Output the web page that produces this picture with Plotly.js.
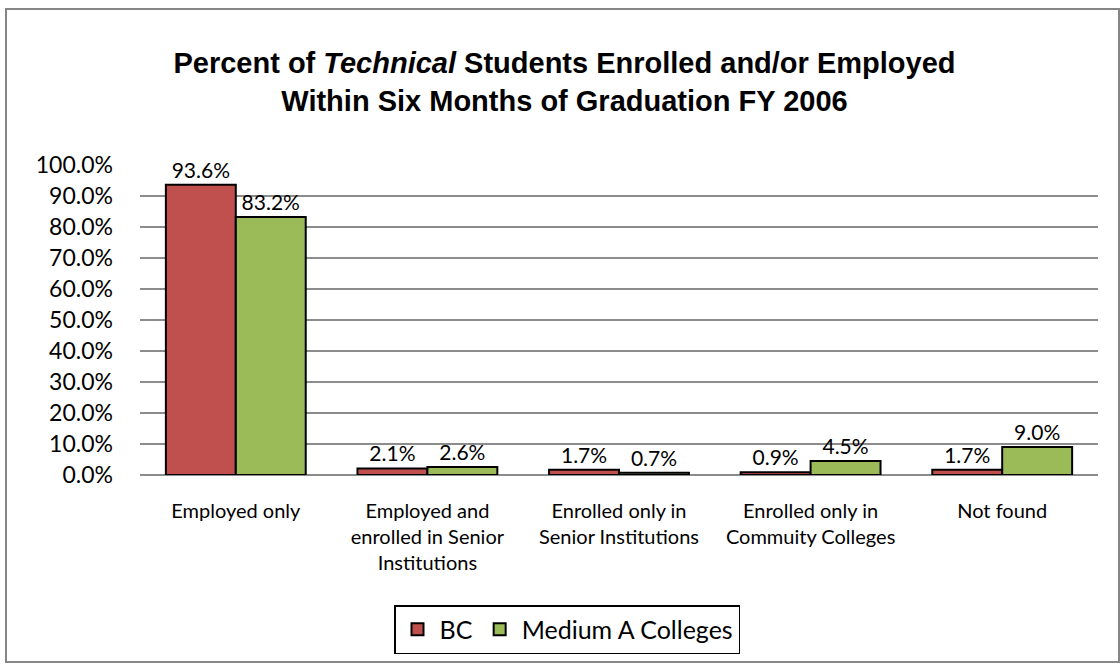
<!DOCTYPE html>
<html>
<head>
<meta charset="utf-8">
<script src="https://cdn.plot.ly/plotly-3.0.1.min.js"></script>
<style>html,body{margin:0;padding:0;background:#fff;}#chart{width:1120px;height:664px;}</style>
</head>
<body>
<div id="chart"></div>
<script>
const categories = [
  "Employed only",
  "Employed and<br>enrolled in Senior<br>Institutions",
  "Enrolled only in<br>Senior Institutions",
  "Enrolled only in<br>Commuity Colleges",
  "Not found"
];
const seriesNames = ["BC", "Medium A Colleges"];
const bcValues = [93.6, 2.1, 1.7, 0.9, 1.7];
const mediumValues = [83.2, 2.6, 0.7, 4.5, 9.0];
const yTicks = [0, 10, 20, 30, 40, 50, 60, 70, 80, 90, 100];

const FONT = "Lato, 'Open Sans', sans-serif";

const mk = (name, vals, color) => ({
  type: "bar",
  name: name,
  x: categories,
  y: vals,
  marker: {color: color, line: {color: "#000000", width: 2}},
  text: vals.map(v => v.toFixed(1) + "%"),
  textposition: "outside",
  cliponaxis: false,
  textfont: {family: FONT, size: 21, color: "#000000"},
  hoverinfo: "none"
});

const data = [
  mk(seriesNames[0], bcValues, "#C0504D"),
  mk(seriesNames[1], mediumValues, "#9BBB59")
];

const layout = {
  width: 1120, height: 664,
  margin: {l: 140, r: 22, t: 165, b: 188},
  paper_bgcolor: "#ffffff",
  plot_bgcolor: "#ffffff",
  showlegend: true,
  bargap: 0.27,
  bargroupgap: 0,
  title: {
    text: "Percent of <i>Technical</i> Students Enrolled and/or Employed<br>Within Six Months of Graduation FY 2006",
    font: {family: "'Liberation Sans', Arial, sans-serif", size: 29, color: "#000000", weight: "bold"},
    xref: "container", x: 0.504, xanchor: "center",
    yref: "container", y: 1 - 73/664, yanchor: "top"
  },
  xaxis: {
    type: "category",
    tickfont: {family: FONT, size: 20, color: "#000000"},
    ticks: "",
    ticklabelstandoff: 22,
    showgrid: false,
    showline: false,
    fixedrange: true
  },
  yaxis: {
    range: [0, 100],
    tickvals: yTicks,
    ticktext: yTicks.map(v => v.toFixed(1) + "%"),
    tickfont: {family: FONT, size: 23, color: "#000000"},
    showgrid: true,
    gridcolor: "#8c8c8c",
    gridwidth: 2,
    zeroline: true,
    zerolinecolor: "#8c8c8c",
    zerolinewidth: 2,
    showline: false,
    ticks: "",
    ticklabelstandoff: 26,
    fixedrange: true
  },
  legend: {
    orientation: "h",
    x: (567 - 140) / 958, xanchor: "center",
    y: (476 - 605) / 311, yanchor: "top",
    bordercolor: "#000000", borderwidth: 1.5,
    bgcolor: "#ffffff",
    itemwidth: 34,
    font: {family: FONT, size: 25, color: "#000000"}
  },
  shapes: [{
    type: "rect", xref: "paper", yref: "paper",
    xsizemode: "pixel", ysizemode: "pixel", xanchor: 0, yanchor: 0,
    x0: -134, x1: 979, y0: -187, y1: 466,
    line: {color: "#868686", width: 2}, fillcolor: "rgba(0,0,0,0)", layer: "below"
  }]
};

Plotly.newPlot("chart", data, layout, {displayModeBar: false, staticPlot: true});
</script>
</body>
</html>
